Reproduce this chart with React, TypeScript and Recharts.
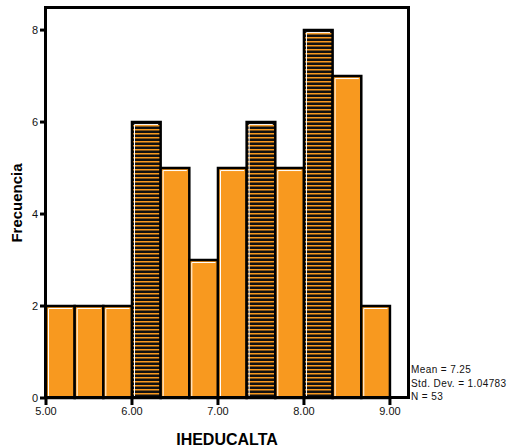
import { ComposedChart, XAxis, YAxis, ReferenceArea, Rectangle } from "recharts";

const binStarts = [5, 5 + 1 / 3, 5 + 2 / 3, 6, 6 + 1 / 3, 6 + 2 / 3, 7, 7 + 1 / 3, 7 + 2 / 3, 8, 8 + 1 / 3, 8 + 2 / 3];
const binWidth = 1 / 3;
const counts = [2, 2, 2, 6, 5, 3, 5, 6, 5, 8, 7, 2];
const hatched = [false, false, false, true, false, false, false, true, false, true, false, false];
const xTicks = [5, 6, 7, 8, 9];
const yTicks = [0, 2, 4, 6, 8];
const stats = ["Mean = 7.25", "Std. Dev. = 1.04783", "N = 53"];

const data = binStarts.map((start, i) => ({ start, end: start + binWidth, count: counts[i], hatched: hatched[i] }));

const ORANGE = "#F8991F";
const font = "'Liberation Sans', Arial, sans-serif";

const HistBar = (props: any) => {
  const { x, y, width, height, fill } = props;
  return (
    <g>
      <Rectangle x={x} y={y} width={width} height={height} fill={fill} stroke="#000" strokeWidth={2.5} />
      <line x1={x + 2.5} y1={y + 2.5} x2={x + width - 2.5} y2={y + 2.5} stroke="#fff" strokeWidth={1} />
      <line x1={x + 2.5} y1={y + 2.5} x2={x + 2.5} y2={y + height - 1} stroke="#fff" strokeWidth={1} />
    </g>
  );
};

export default function App() {
  return (
    <div style={{ position: "absolute", left: 0, top: 0, width: 517, height: 447, background: "#fff", fontFamily: font }}>
      <ComposedChart width={517} height={447} data={data} margin={{ top: 8, right: 109, left: 0, bottom: 0 }}>
        <defs>
          <pattern id="stripes" width="4" height="4" patternUnits="userSpaceOnUse">
            <rect width="4" height="4" fill="#111" />
            <rect y="1" width="4" height="1.5" fill={ORANGE} />
          </pattern>
        </defs>
        <XAxis
          dataKey="start"
          type="number"
          domain={[5, 9.21]}
          ticks={xTicks}
          allowDataOverflow
          height={49}
          axisLine={false}
          tickLine={{ stroke: "#000", strokeWidth: 3 }}
          tickSize={7}
          tickFormatter={(v: number) => v.toFixed(2)}
          tick={{ fill: "#111", fontSize: 11, fontFamily: font }}
          label={{ value: "IHEDUCALTA", position: "insideBottom", offset: 2, fill: "#000", fontSize: 16, fontWeight: "bold", fontFamily: font }}
        />
        <YAxis
          domain={[0, 8.48]}
          ticks={yTicks}
          allowDataOverflow
          width={46}
          axisLine={false}
          tickLine={{ stroke: "#000", strokeWidth: 3 }}
          tickSize={6}
          tick={{ fill: "#111", fontSize: 11, fontFamily: font }}
          label={{ value: "Frecuencia", angle: -90, position: "insideLeft", offset: 17, textAnchor: "middle", fill: "#000", fontSize: 15, fontWeight: "bold", fontFamily: font }}
        />
        {data.map((d) => (
          <ReferenceArea
            key={d.start}
            x1={d.start}
            x2={d.end}
            y1={0}
            y2={d.count}
            fill={d.hatched ? "url(#stripes)" : ORANGE}
            fillOpacity={1}
            ifOverflow="visible"
            shape={(p: any) => <HistBar {...p} />}
          />
        ))}
      </ComposedChart>
      <div
        style={{
          position: "absolute",
          left: 44,
          top: 6,
          width: 366,
          height: 393,
          border: "3px solid #000",
          boxSizing: "border-box",
          pointerEvents: "none",
        }}
      />
      <div style={{ position: "absolute", left: 411, top: 363, fontSize: 10, lineHeight: "13.5px", letterSpacing: 0.4, color: "#111", whiteSpace: "nowrap" }}>
        {stats.map((s) => (
          <div key={s}>{s}</div>
        ))}
      </div>
    </div>
  );
}
